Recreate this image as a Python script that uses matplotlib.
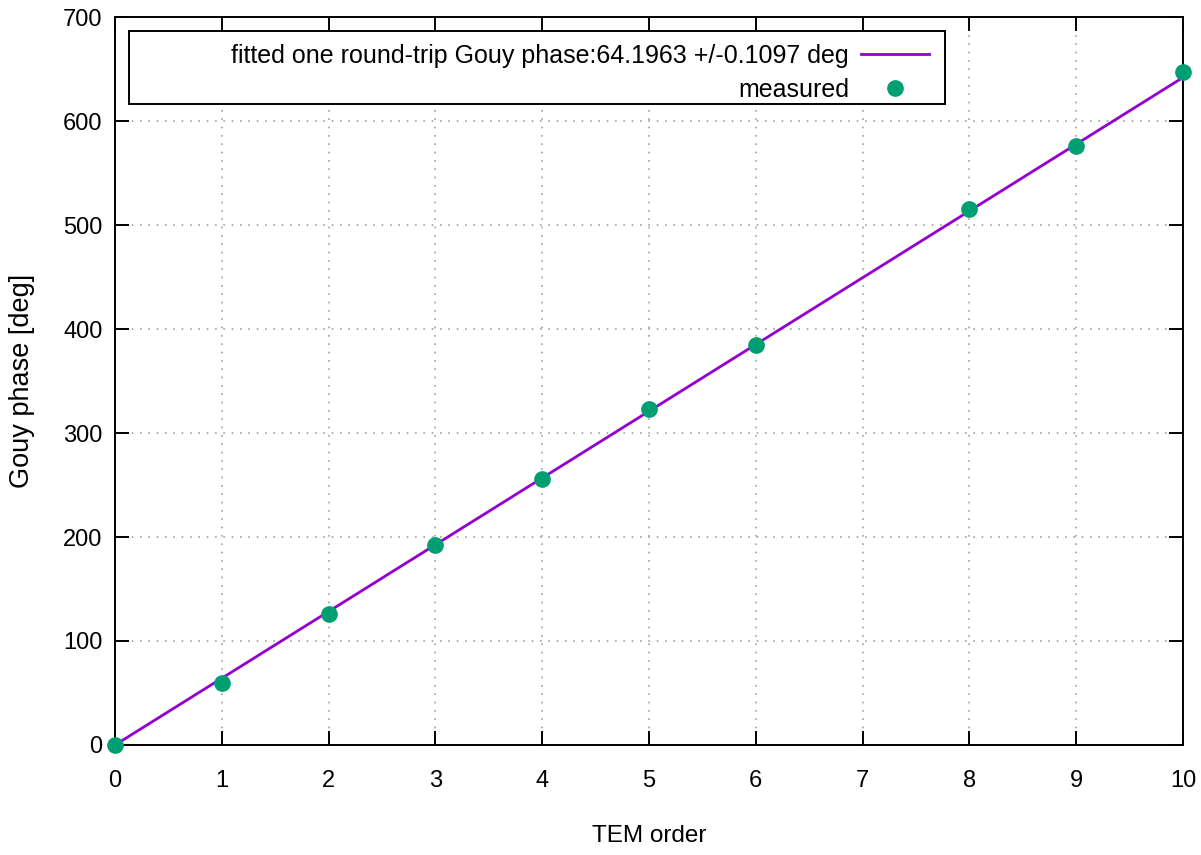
import numpy as np
import matplotlib
matplotlib.use("Agg")
import matplotlib.pyplot as plt
from matplotlib.patches import Rectangle

plt.rcParams["font.family"] = ["Liberation Sans", "DejaVu Sans"]

# measured Gouy phase per TEM order (no point at order 7)
order = [0, 1, 2, 3, 4, 5, 6, 8, 9, 10]
phase = [0, 60, 126, 192, 256, 323.5, 385, 515.5, 576, 647]

slope = 64.1963
slope_err = 0.1097
fit_x = np.array([0, 10])
fit_y = slope * fit_x

fig = plt.figure(figsize=(12.01, 8.55), dpi=100)
ax = fig.add_axes([0.0958, 0.1287, 0.8892, 0.8513])

ax.plot(fit_x, fit_y, color="#9400d3", lw=2,
        label="fitted one round-trip Gouy phase:%.4f +/-%.4f deg" % (slope, slope_err))
ax.plot(order, phase, "o", color="#009e73", ms=11, label="measured",
        clip_on=False, zorder=3)

ax.set_xlim(0, 10)
ax.set_ylim(0, 700)
ax.set_xticks(range(0, 11))
ax.set_yticks(range(0, 701, 100))
ax.grid(True, color="#a0a0a0", ls=(0, (1, 4)), lw=1.2)
ax.tick_params(direction="in", length=10, width=1.4, top=True, right=True,
               labelsize=17)
ax.tick_params(axis="x", pad=18)
ax.tick_params(axis="y", pad=9)
for s in ax.spines.values():
    s.set_linewidth(1.4)

ax.set_xlabel("TEM order", fontsize=17.5, labelpad=24)
ax.set_ylabel("Gouy phase [deg]", fontsize=19.5, labelpad=20)

# legend box like gnuplot's, text right aligned against the samples
ax.add_patch(Rectangle((0.0131, 0.8805), 0.764, 0.1003, transform=ax.transAxes,
                       facecolor="white", edgecolor="black", lw=1.4, zorder=4))
leg = ax.legend(loc="upper right", bbox_to_anchor=(0.7785, 0.987), frameon=False,
                markerfirst=False, fontsize=18, handlelength=2.7, labelspacing=0.4,
                borderpad=0.2, handletextpad=0.5)
leg.set_zorder(5)

fig.savefig("out.png", dpi=100)
